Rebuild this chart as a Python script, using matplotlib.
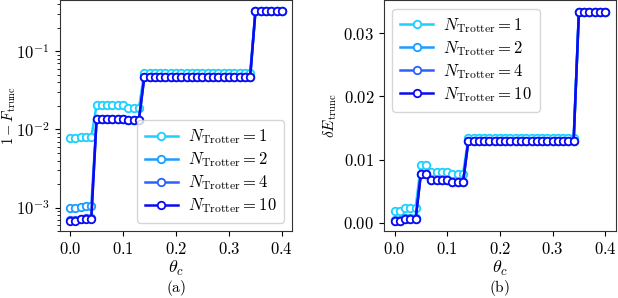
"""Truncation error vs. cutoff angle for several Trotter step counts."""

import math

import matplotlib

matplotlib.use("Agg")
import matplotlib.pyplot as plt
from matplotlib.ticker import FuncFormatter

plt.rcParams["mathtext.fontset"] = "cm"
plt.rcParams["font.family"] = "serif"
plt.rcParams["font.serif"] = ["DejaVu Serif"]
plt.rcParams["font.size"] = 12

theta = [0.00, 0.01, 0.02, 0.03, 0.04, 0.05, 0.06, 0.07, 0.08, 0.09, 0.10,
         0.11, 0.12, 0.13, 0.14, 0.15, 0.16, 0.17, 0.18, 0.19, 0.20, 0.21,
         0.22, 0.23, 0.24, 0.25, 0.26, 0.27, 0.28, 0.29, 0.30, 0.31, 0.32,
         0.33, 0.34, 0.35, 0.36, 0.37, 0.38, 0.39, 0.40]

n_trotter = [1, 2, 4, 10]
colors = ["#19d0ff", "#1a9dff", "#2b62ff", "#0a0af0"]

# (a) infidelity 1 - F_trunc
infid = {
    1: [0.0078, 0.0078, 0.0079, 0.0079, 0.0079]
    + [0.0205] * 6 + [0.0186] * 3 + [0.053] * 21 + [0.326] * 6,
    2: [0.00098, 0.00099, 0.00103, 0.00104, 0.00104]
    + [0.01355] * 6 + [0.0134] * 3 + [0.0465] * 21 + [0.326] * 6,
    4: [0.00069, 0.00069, 0.00072, 0.00073, 0.00073]
    + [0.01355] * 6 + [0.0134] * 3 + [0.0465] * 21 + [0.326] * 6,
    10: [0.00067, 0.00068, 0.00071, 0.00072, 0.00072]
    + [0.01355] * 6 + [0.0134] * 3 + [0.0465] * 21 + [0.326] * 6,
}

# (b) energy error dE_trunc
denergy = {
    1: [0.0019, 0.0019, 0.0023, 0.0023, 0.0023]
    + [0.0092, 0.0092] + [0.0081] * 4 + [0.0077] * 3 + [0.01335] * 21 + [0.0334] * 6,
    2: [0.0004, 0.0004, 0.0007, 0.0007, 0.0007]
    + [0.0078, 0.0078] + [0.0067] * 4 + [0.0064] * 3 + [0.0129] * 21 + [0.0334] * 6,
    4: [0.0003, 0.0003, 0.0006, 0.0006, 0.0006]
    + [0.0078, 0.0078] + [0.0067] * 4 + [0.0064] * 3 + [0.0129] * 21 + [0.0334] * 6,
    10: [0.0003, 0.0003, 0.0006, 0.0006, 0.0006]
    + [0.0078, 0.0078] + [0.0067] * 4 + [0.0064] * 3 + [0.0129] * 21 + [0.0334] * 6,
}

fig = plt.figure(figsize=(6.18, 2.98), dpi=100)
axa = fig.add_axes([0.0963, 0.2248, 0.377, 0.774])
axb = fig.add_axes([0.6214, 0.2248, 0.375, 0.774])

style = dict(marker="o", markersize=5.4, markerfacecolor="white",
             markeredgewidth=1.3, lw=1.8)

for n, c in zip(n_trotter, colors):
    lab = r"$N_{\rm Trotter} = %d$" % n
    axa.plot(theta, infid[n], color=c, label=lab, **style)
    axb.plot(theta, denergy[n], color=c, label=lab, **style)

axa.set_yscale("log")
axa.set_ylim(5.0e-4, 0.45)
axa.set_yticks([1e-3, 1e-2, 1e-1])
axa.yaxis.set_major_formatter(
    FuncFormatter(lambda v, _: r"$10^{%d}$" % round(math.log10(v))))
axa.set_ylabel(r"$1 - F_{\rm trunc}$", fontsize=10.5)
axa.yaxis.set_label_coords(-0.178, 0.5)
axa.legend(loc="lower right", handlelength=2.0, borderpad=0.45,
           labelspacing=0.25, handletextpad=0.6)

axb.set_ylim(-0.0013, 0.0352)
axb.set_yticks([0.0, 0.01, 0.02, 0.03])
axb.yaxis.set_major_formatter(FuncFormatter(lambda v, _: r"$%.2f$" % v))
axb.set_ylabel(r"$\delta E_{\rm trunc}$", labelpad=3, fontsize=11)
axb.legend(loc="upper left", handlelength=2.0, borderpad=0.45,
           labelspacing=0.25, handletextpad=0.6)

for ax, tag in ((axa, "(a)"), (axb, "(b)")):
    ax.set_xlim(-0.02, 0.42)
    ax.set_xticks([0.0, 0.1, 0.2, 0.3, 0.4])
    ax.xaxis.set_major_formatter(FuncFormatter(lambda v, _: r"$%.1f$" % v))
    ax.set_xlabel(r"$\theta_c$", labelpad=1, fontsize=13)
    ax.text(0.5, -0.205, r"$\mathrm{%s}$" % tag, transform=ax.transAxes,
            ha="center", va="top", fontsize=11)
    for sp in ax.spines.values():
        sp.set_color("#333333")

fig.savefig("out.png", dpi=100)
plt.close(fig)
